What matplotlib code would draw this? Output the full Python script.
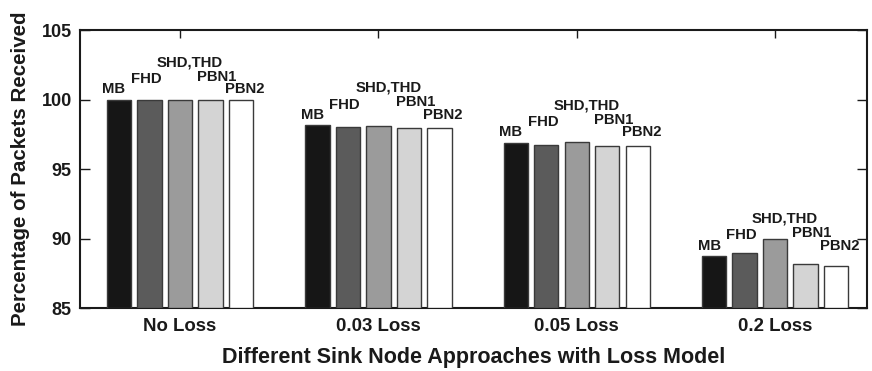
import matplotlib
matplotlib.use("Agg")
import matplotlib.pyplot as plt
import numpy as np

plt.rcParams['font.family'] = ['Liberation Sans', 'DejaVu Sans']
plt.rcParams['font.weight'] = 'bold'

groups = ["No Loss", "0.03 Loss", "0.05 Loss", "0.2 Loss"]
series = ["MB", "FHD", "SHD,THD", "PBN1", "PBN2"]
mb = [100.0, 98.15, 96.9, 88.74]
fhd = [100.0, 98.0, 96.75, 88.93]
shd = [100.0, 98.1, 96.96, 89.94]
pbn1 = [100.0, 97.97, 96.68, 88.19]
pbn2 = [100.0, 97.93, 96.63, 88.04]
yticks = [85, 90, 95, 100, 105]

values = [mb, fhd, shd, pbn1, pbn2]
colors = ["#161616", "#5b5b5b", "#9b9b9b", "#d4d4d4", "#ffffff"]
pitch = 0.1537
width = 0.123
label_dx = [-0.333, -0.171, 0.05, 0.186, 0.327]
label_dy = [0.45, 1.2, 2.4, 1.35, 0.45]

fig = plt.figure(figsize=(8.72, 3.71), dpi=100)
ax = fig.add_axes([0.0917, 0.1698, 0.9943 - 0.0917, 0.919 - 0.1698])

x = np.arange(len(groups))
for i, (name, vals, c) in enumerate(zip(series, values, colors)):
    off = (i - 2) * pitch
    ax.bar(x + off, np.array(vals) - 85, bottom=85, width=width, color=c,
           edgecolor="#3a3a3a", linewidth=1.0, zorder=3)
    for g in range(len(groups)):
        ax.text(x[g] + label_dx[i], mb[g] + label_dy[i], name, ha="center",
                va="baseline", fontsize=10.7, fontweight="bold", color="#1a1a1a")

ax.set_xlim(-0.504, 3.463)
ax.set_ylim(85, 105)
ax.set_yticks(yticks)
ax.set_yticklabels([str(t) for t in yticks], fontsize=13, fontweight="bold")
ax.set_xticks(x)
ax.set_xticklabels(groups, fontsize=13.4, fontweight="bold")
ax.tick_params(axis="y", direction="in", length=7, width=1, right=True, pad=6, colors="#1a1a1a")
ax.tick_params(axis="x", direction="in", length=6, width=1, top=True, bottom=False, pad=7, colors="#1a1a1a")
for s in ax.spines.values():
    s.set_linewidth(1.5)
    s.set_color("#1a1a1a")

ax.set_xlabel("Different Sink Node Approaches with Loss Model", fontsize=15.5, fontweight="bold", labelpad=9, color="#1a1a1a")
ax.set_ylabel("Percentage of Packets Received", fontsize=14.8, fontweight="bold", labelpad=8, color="#1a1a1a")

fig.savefig("out.png", dpi=100)
